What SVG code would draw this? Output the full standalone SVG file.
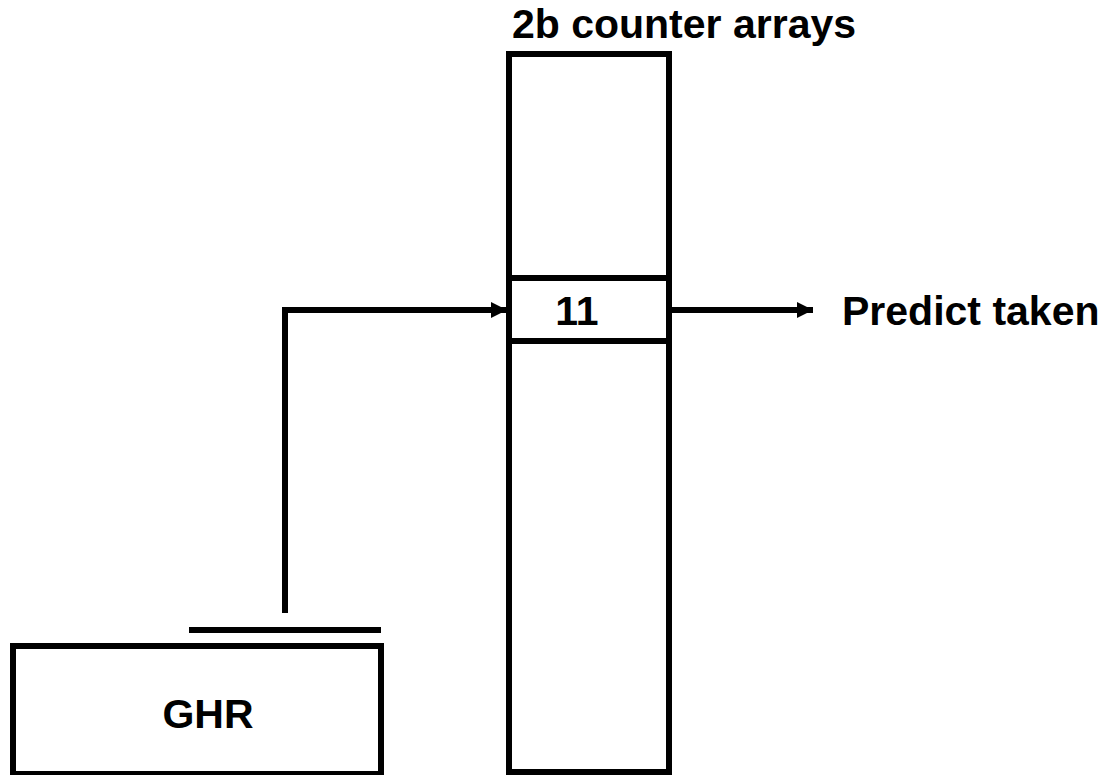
<svg xmlns="http://www.w3.org/2000/svg" width="1117" height="775" viewBox="0 0 1117 775">
<defs>
<style>
.box{fill:#fff;stroke:#000;stroke-width:6}
.ln{fill:none;stroke:#000;stroke-width:6}
.t{font-family:"Liberation Sans",Arial,sans-serif;font-weight:bold;font-size:41px;fill:#000}
</style>
<marker id="ah" viewBox="0 0 16 16" refX="16" refY="8" markerWidth="16" markerHeight="16" markerUnits="userSpaceOnUse" orient="auto">
<path d="M0,0 L16,8 L0,16 z" fill="#000"/>
</marker>
</defs>
<rect width="1117" height="775" fill="#fff"/>
<g id="array">
<rect class="box" x="509" y="54" width="160" height="718"/>
<line class="ln" x1="509" y1="278" x2="669" y2="278"/>
<line class="ln" x1="509" y1="341" x2="669" y2="341"/>
<text class="t" x="684" y="38" text-anchor="middle">2b counter arrays</text>
<text class="t" x="577" y="325" text-anchor="middle">11</text>
</g>
<g id="ghr">
<rect class="box" x="13" y="646" width="368" height="128"/>
<line class="ln" x1="189" y1="630" x2="381" y2="630"/>
<text class="t" x="208" y="728" text-anchor="middle">GHR</text>
</g>
<g id="predict">
<text class="t" x="842" y="325">Predict taken</text>
</g>
<g id="connectors">
<polyline class="ln" points="285,613 285,310 507,310" marker-end="url(#ah)"/>
<line class="ln" x1="672" y1="310" x2="813" y2="310" marker-end="url(#ah)"/>
</g>
</svg>
